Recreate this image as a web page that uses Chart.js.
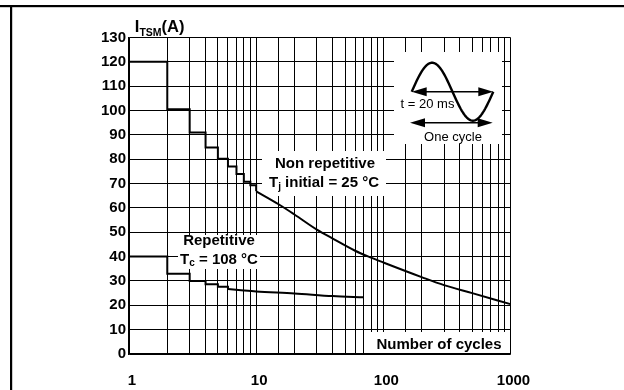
<!DOCTYPE html>
<html><head><meta charset="utf-8">
<script src="https://cdn.jsdelivr.net/npm/chart.js@4.4.0/dist/chart.umd.min.js"></script>
<style>html,body{margin:0;padding:0;background:#fff;}canvas{display:block;}</style>
</head><body>
<canvas id="c" width="624" height="390"></canvas>
<script>
// ---- data ----
const xTickLabels = ['1', '10', '100', '1000'];
const yTickMin = 0, yTickMax = 130, yTickStep = 10;

const nonRepStepN = [1, 2, 3, 4, 5, 6, 7, 8, 9, 10];
const nonRepStepI = [120, 100.5, 91, 84.8, 80.2, 77, 73.9, 70.8, 69.3, 66.8];
const nonRepCurveN = [10, 15, 20, 30, 40, 60, 80, 100, 200, 300, 500, 1000];
const nonRepCurveI = [66.8, 61.5, 57.3, 51.1, 47.4, 42.4, 39.6, 37.6, 31.6, 28.3, 25, 20.5];

const repStepN = [1, 2, 3, 4, 5, 6];
const repStepI = [40, 33, 30, 28.6, 27.6, 26.7];
const repCurveN = [6, 8, 10, 20, 40, 70];
const repCurveI = [26.7, 26.1, 25.7, 24.9, 23.8, 23.3];

const FONT = "'Liberation Sans', Arial, Helvetica, sans-serif";
const pts = (xs, ys) => xs.map((x, i) => ({x, y: ys[i]}));

function richText(ctx, parts, cx, baseline) {
  let w = 0;
  parts.forEach(p => { ctx.font = `${p.bold === false ? '' : 'bold '}${p.size}px ${FONT}`; p.w = ctx.measureText(p.t).width; w += p.w; });
  let x = cx - w / 2;
  ctx.textAlign = 'left'; ctx.textBaseline = 'alphabetic';
  parts.forEach(p => { ctx.font = `${p.bold === false ? '' : 'bold '}${p.size}px ${FONT}`; ctx.fillText(p.t, x, baseline + (p.dy || 0)); x += p.w; });
}

function arrow(ctx, x1, x2, y) {
  const L = 15, H = 4.5;
  ctx.lineWidth = 1.5;
  ctx.beginPath(); ctx.moveTo(x1 + L - 2, y); ctx.lineTo(x2 - L + 2, y); ctx.stroke();
  ctx.beginPath(); ctx.moveTo(x1, y); ctx.lineTo(x1 + L, y - H); ctx.lineTo(x1 + L, y + H); ctx.closePath(); ctx.fill();
  ctx.beginPath(); ctx.moveTo(x2, y); ctx.lineTo(x2 - L, y - H); ctx.lineTo(x2 - L, y + H); ctx.closePath(); ctx.fill();
}

const annot = {
  id: 'annot',
  beforeDatasetsDraw(chart) {
    const {ctx, chartArea: a} = chart;
    ctx.save();
    ctx.fillStyle = '#fff';
    const boxes = [[265, 14.5, 108, 92], [133, 113.5, 124, 45], [49, 197.5, 82, 34], [242, 294.5, 136, 21]];
    boxes.forEach(b => ctx.fillRect(a.left + b[0], a.top + b[1], b[2], b[3]));
    ctx.restore();
  },
  afterDatasetsDraw(chart) {
    const {ctx, chartArea: a} = chart;
    const X = v => a.left + v, Y = v => a.top + v;
    ctx.save();
    ctx.fillStyle = '#000'; ctx.strokeStyle = '#000';
    // title
    richText(ctx, [{t: 'I', size: 16.5}, {t: 'TSM', size: 10.5, dy: 4}, {t: '(A)', size: 16.5}], X(3.7) + 27, Y(-5.8));
    // annotations
    richText(ctx, [{t: 'Non repetitive', size: 15}], X(196), Y(130.5));
    richText(ctx, [{t: 'T', size: 15}, {t: 'j', size: 10, dy: 3.5}, {t: ' initial = 25 °C', size: 15}], X(195), Y(149));
    richText(ctx, [{t: 'Repetitive', size: 15}], X(90), Y(207.5));
    richText(ctx, [{t: 'T', size: 15}, {t: 'c', size: 10, dy: 2.5}, {t: ' = 108 °C', size: 15}], X(90), Y(226));
    richText(ctx, [{t: 'Number of cycles', size: 15}], X(310), Y(311));
    // inset
    const sx0 = X(282.7), sx1 = X(364.3), sy = Y(54.2), amp = 29;
    ctx.lineWidth = 2.4; ctx.lineJoin = 'round';
    ctx.beginPath();
    for (let i = 0; i <= 80; i++) {
      const t = i / 80;
      const x = sx0 + (sx1 - sx0) * t, y = sy - amp * Math.sin(2 * Math.PI * t);
      i ? ctx.lineTo(x, y) : ctx.moveTo(x, y);
    }
    ctx.stroke();
    arrow(ctx, X(282.7), X(364.3), Y(54.2));
    arrow(ctx, X(281), X(363.7), Y(85.2));
    richText(ctx, [{t: 't = 20 ms', size: 13, bold: false}], X(298.5), Y(70.8));
    richText(ctx, [{t: 'One cycle', size: 13, bold: false}], X(324), Y(103));
    ctx.restore();
  },
  afterDraw(chart) {
    const ctx = chart.ctx;
    ctx.save(); ctx.fillStyle = '#000';
    ctx.fillRect(0, 5, chart.width, 2.2);
    ctx.fillRect(10, 5, 2.2, chart.height - 5);
    ctx.restore();
  }
};

const lineStyle = {borderColor: '#000', borderWidth: 2, pointRadius: 0, fill: false, showLine: true, borderJoinStyle: 'miter', borderCapStyle: 'butt'};

new Chart(document.getElementById('c'), {
  type: 'scatter',
  data: {
    datasets: [
      {...lineStyle, data: pts(nonRepStepN, nonRepStepI), stepped: 'before'},
      {...lineStyle, data: pts(nonRepCurveN, nonRepCurveI), cubicInterpolationMode: 'monotone'},
      {...lineStyle, data: pts(repStepN, repStepI), stepped: 'before'},
      {...lineStyle, data: pts(repCurveN, repCurveI), cubicInterpolationMode: 'monotone'}
    ]
  },
  options: {
    responsive: false, animation: false, devicePixelRatio: 1,
    layout: {padding: {left: 89, right: 113.5, top: 37.5, bottom: 0}},
    plugins: {legend: {display: false}, tooltip: {enabled: false}},
    scales: {
      x: {
        type: 'logarithmic', min: 1, max: 1000,
        afterFit(s) { s.height = 36; },
        grid: {color: '#000', lineWidth: 1, drawTicks: false},
        border: {color: '#000', width: 1.5},
        ticks: {
          autoSkip: false, maxRotation: 0, minRotation: 0, padding: 18, labelOffset: 3,
          color: '#000', font: {family: FONT, size: 15, weight: 'bold'},
          callback(v) { const s = String(v); return xTickLabels.includes(s) ? s : ''; }
        }
      },
      y: {
        type: 'linear', min: yTickMin, max: yTickMax,
        afterFit(s) { s.width = 40; },
        grid: {color: '#000', lineWidth: 1, drawTicks: false},
        border: {color: '#000', width: 1.5},
        ticks: {stepSize: yTickStep, padding: 3, color: '#000', font: {family: FONT, size: 15, weight: 'bold'}}
      }
    }
  },
  plugins: [annot]
});
</script>
</body></html>
